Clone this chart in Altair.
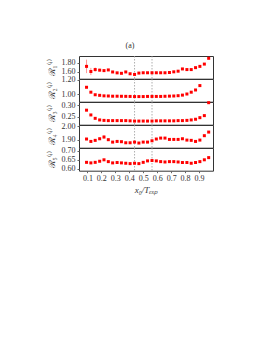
import altair as alt
import pandas as pd

x_vals = [0.094, 0.125, 0.156, 0.188, 0.219, 0.250, 0.281, 0.313, 0.344, 0.375,
          0.406, 0.438, 0.469, 0.500, 0.531, 0.563, 0.594, 0.625, 0.656, 0.688,
          0.719, 0.750, 0.781, 0.813, 0.844, 0.875, 0.906, 0.938, 0.969]

r1 = [1.714, 1.600, 1.643, 1.630, 1.620, 1.635, 1.590, 1.570, 1.560, 1.590,
      1.550, 1.535, 1.565, 1.572, 1.572, 1.572, 1.572, 1.572, 1.572, 1.578,
      1.593, 1.607, 1.657, 1.643, 1.643, 1.686, 1.714, 1.765, 1.894]
e1 = [0.150, 0.080, 0.045, 0.030, 0.015, 0.012, 0.010, 0.008, 0.008, 0.008,
      0.008, 0.008, 0.008, 0.008, 0.008, 0.008, 0.008, 0.008, 0.008, 0.008,
      0.008, 0.008, 0.008, 0.008, 0.008, 0.008, 0.008, 0.008, 0.008]

r2 = [1.097, 1.030, 0.995, 0.987, 0.980, 0.978, 0.975, 0.975, 0.974, 0.973,
      0.972, 0.970, 0.970, 0.970, 0.972, 0.972, 0.972, 0.972, 0.974, 0.976,
      0.978, 0.982, 0.990, 1.005, 1.030, 1.060, 1.120]

r3 = [0.279, 0.258, 0.243, 0.236, 0.234, 0.233, 0.233, 0.233, 0.233, 0.233,
      0.232, 0.231, 0.231, 0.231, 0.231, 0.231, 0.232, 0.232, 0.232, 0.232,
      0.232, 0.233, 0.233, 0.234, 0.236, 0.239, 0.246, 0.255, 0.312]

r4 = [1.905, 1.887, 1.895, 1.907, 1.920, 1.900, 1.882, 1.887, 1.885, 1.877,
      1.877, 1.882, 1.875, 1.882, 1.882, 1.892, 1.905, 1.912, 1.912, 1.902,
      1.902, 1.902, 1.907, 1.897, 1.895, 1.887, 1.897, 1.930, 1.957]
e4 = [0.006, 0.006, 0.008, 0.010, 0.014, 0.010, 0.006, 0.006, 0.006, 0.006,
      0.006, 0.006, 0.006, 0.006, 0.006, 0.006, 0.006, 0.006, 0.006, 0.006,
      0.006, 0.006, 0.006, 0.006, 0.006, 0.006, 0.006, 0.006, 0.006]

r5 = [0.636, 0.633, 0.636, 0.642, 0.650, 0.640, 0.633, 0.635, 0.633, 0.631,
      0.629, 0.631, 0.629, 0.636, 0.644, 0.646, 0.644, 0.640, 0.638, 0.640,
      0.640, 0.638, 0.635, 0.635, 0.631, 0.635, 0.640, 0.650, 0.662]

titles = ["ℛ₁⁽ⁱ⁾", "ℛ₂⁽ⁱ⁾", "ℛ₃⁽ⁱ⁾", "ℛ₄⁽ⁱ⁾", "ℛ₅⁽ⁱ⁾"]
domains = [[1.44, 1.945], [0.90, 1.21], [0.215, 0.315], [1.84, 2.01], [0.59, 0.715]]
yticks = [[1.60, 1.80], [1.00, 1.20], [0.25, 0.30], [1.90, 2.00], [0.60, 0.65, 0.70]]
xticks = [0.1, 0.2, 0.3, 0.4, 0.5, 0.6, 0.7, 0.8, 0.9]
dashed = [0.438, 0.563]

FONT = "Liberation Serif"
RED = "#ff0000"
INK = "#333333"


def panel(vals, errs, dom, ticks, title, bottom):
    n = len(vals)
    df = pd.DataFrame({"x": x_vals[:n], "y": vals})
    if errs is not None:
        df["lo"] = [v - e for v, e in zip(vals, errs[:n])]
        df["hi"] = [v + e for v, e in zip(vals, errs[:n])]
    if bottom:
        xaxis = alt.Axis(values=xticks, format=".1f", title="x₀/Tₑₓₚ",
                         labelFont=FONT, titleFont=FONT, labelFontSize=8,
                         titleFontSize=9, titleFontStyle="italic", titleFontWeight="normal",
                         tickSize=2, labelPadding=2, titlePadding=3,
                         domain=False, grid=False, labelFlush=False,
                         labelColor=INK, titleColor=INK, tickColor="#666")
    else:
        xaxis = None
    xs = alt.Scale(domain=[0.04, 1.0], nice=False, zero=False)
    ys = alt.Scale(domain=dom, nice=False, zero=False)
    yaxis = alt.Axis(values=ticks, format=".2f", title=title, labelFont=FONT,
                     titleFont=FONT, labelFontSize=8, titleFontSize=9,
                     titleFontWeight="normal", tickSize=2, labelPadding=2,
                     titlePadding=5, domain=False, grid=False,
                     labelColor=INK, titleColor=INK, tickColor="#666")
    vl = alt.Chart(pd.DataFrame({"x": dashed})).mark_rule(
        color="#999", strokeDash=[1.5, 1.5], strokeWidth=0.8
    ).encode(x=alt.X("x:Q", scale=xs, axis=xaxis))
    layers = [vl]
    if errs is not None:
        layers.append(alt.Chart(df).mark_rule(color=RED, strokeWidth=0.6, opacity=0.7).encode(
            x=alt.X("x:Q", scale=xs, axis=xaxis),
            y=alt.Y("lo:Q", scale=ys, axis=yaxis),
            y2="hi:Q"))
    layers.append(alt.Chart(df).mark_square(color=RED, size=9, opacity=1).encode(
        x=alt.X("x:Q", scale=xs, axis=xaxis),
        y=alt.Y("y:Q", scale=ys, axis=yaxis)))
    return alt.layer(*layers).properties(width=134, height=22.7)


panels = [
    panel(r1, e1, domains[0], yticks[0], titles[0], False),
    panel(r2, None, domains[1], yticks[1], titles[1], False),
    panel(r3, None, domains[2], yticks[2], titles[2], False),
    panel(r4, e4, domains[3], yticks[3], titles[3], False),
    panel(r5, None, domains[4], yticks[4], titles[4], True),
]

chart = alt.vconcat(*panels, spacing=0, bounds="flush").properties(
    title=alt.TitleParams("(a)", font=FONT, fontSize=8, fontWeight="normal",
                          color=INK, offset=5, anchor="middle"),
    padding={"left": 38, "top": 34, "right": 5, "bottom": 5},
).configure_view(stroke=INK, strokeWidth=1).configure_concat(spacing=0)

chart.save("out.html", embed_options={"renderer": "svg", "actions": False})
